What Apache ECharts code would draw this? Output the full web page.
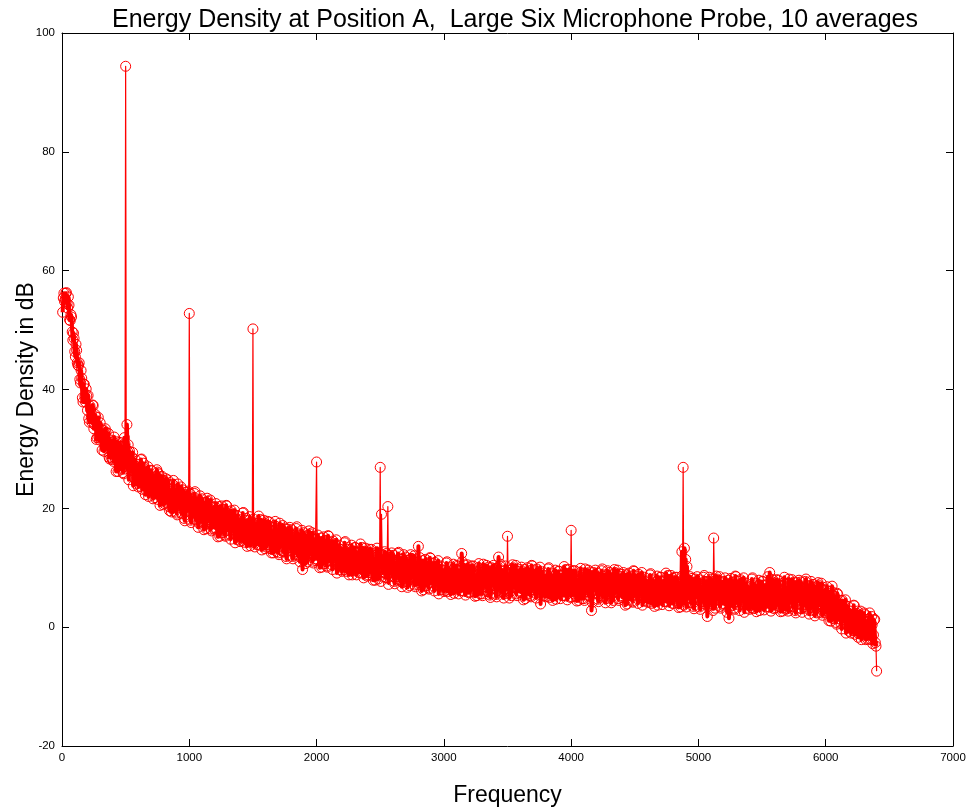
<!DOCTYPE html>
<html>
<head>
<meta charset="utf-8">
<script src="https://cdn.jsdelivr.net/npm/echarts@6/dist/echarts.min.js"></script>
<style>
  html, body { margin: 0; padding: 0; background: #ffffff; }
  #chart { width: 972px; height: 810px; }
</style>
</head>
<body>
<div id="chart"></div>
<script>
// ---- data ----
const titleText = 'Energy Density at Position A,  Large Six Microphone Probe, 10 averages';
const xAxisName = 'Frequency';
const yAxisName = 'Energy Density in dB';

// spectrum bins: 5 Hz spacing; "even" bins at 10,20,...,6400 Hz and "odd" bins at 5,15,...,6395 Hz
const FREQ_EVEN_START_HZ = 10;
const FREQ_ODD_START_HZ = 5;
const FREQ_PAIR_STEP_HZ = 10;

// energy density (dB) at 10, 20, ... 6400 Hz (one row per 200 Hz)
const energyDbEven = [
  55.4, 54.8, 56.2, 54.5, 55.6, 51.7, 52.6, 49.7, 49.5, 46.4, 47.6, 44.5, 44.0, 41.7, 43.2, 38.6, 40.9, 38.8, 40.1, 36.5,
  35.1, 37.2, 35.3, 37.4, 33.4, 35.8, 31.6, 34.0, 32.0, 34.4, 31.9, 33.1, 29.6, 33.4, 30.1, 31.1, 28.6, 31.5, 28.5, 31.2,
  32.0, 28.3, 30.4, 26.2, 28.9, 27.2, 30.4, 26.0, 31.9, 94.4, 34.1, 30.7, 29.6, 26.3, 28.6, 23.8, 27.2, 24.7, 27.4, 23.6,
  24.5, 28.2, 23.2, 27.6, 26.9, 23.1, 26.0, 22.0, 24.8, 26.4, 22.6, 24.9, 21.8, 25.3, 26.1, 25.8, 20.5, 24.4, 22.1, 24.7,
  24.5, 21.0, 24.8, 20.3, 23.1, 19.4, 24.0, 21.1, 22.9, 19.2, 24.1, 20.2, 21.5, 19.1, 23.1, 18.3, 22.3, 20.2, 22.9, 52.8,
  18.0, 21.2, 19.4, 22.5, 18.1, 21.6, 16.8, 20.3, 18.2, 21.6, 18.8, 20.6, 16.6, 21.7, 17.8, 19.3, 16.5, 20.2, 16.8, 20.3,
  20.8, 17.3, 19.5, 15.3, 18.1, 16.6, 19.8, 15.5, 20.5, 17.0, 18.5, 15.6, 19.6, 16.4, 18.9, 14.2, 17.7, 15.4, 18.1, 14.4,
  15.4, 19.2, 14.3, 17.0, 18.3, 14.5, 17.5, 13.7, 16.5, 50.2, 14.6, 16.9, 13.9, 17.5, 15.6, 18.1, 13.0, 16.9, 14.8, 17.4,
  17.2, 13.9, 17.7, 13.2, 16.1, 12.5, 17.1, 14.3, 16.2, 12.5, 17.5, 13.6, 15.0, 12.7, 16.7, 11.9, 16.0, 14.0, 16.8, 12.8,
  11.9, 15.2, 13.4, 16.6, 12.2, 15.7, 11.0, 14.5, 9.7, 15.9, 13.1, 15.0, 11.0, 16.2, 12.3, 13.8, 11.1, 14.8, 11.5, 27.8,
  15.5, 12.0, 14.2, 10.1, 12.9, 11.3, 14.6, 10.3, 15.4, 11.9, 13.3, 10.5, 14.5, 11.4, 13.8, 9.1, 12.7, 10.3, 13.1, 9.4,
  10.5, 14.2, 9.4, 12.1, 13.4, 9.6, 12.7, 8.8, 11.7, 13.4, 9.8, 12.1, 9.2, 12.7, 10.9, 13.4, 8.3, 12.2, 10.1, 12.7,
  12.6, 9.2, 13.1, 8.6, 11.5, 7.9, 12.6, 9.8, 11.7, 26.9, 19.0, 9.2, 10.6, 8.3, 12.4, 20.3, 11.7, 9.7, 12.5, 8.5,
  7.7, 10.9, 9.2, 12.4, 8.0, 11.6, 6.8, 10.4, 8.4, 11.8, 9.1, 10.9, 7.0, 12.2, 8.3, 9.9, 7.1, 10.9, 7.6, 13.6,
  11.7, 8.1, 10.4, 6.3, 9.1, 7.6, 10.8, 6.6, 11.7, 8.2, 9.7, 6.9, 10.9, 7.8, 10.3, 5.6, 9.2, 6.9, 9.6, 6.0,
  7.0, 10.8, 6.0, 8.8, 10.1, 6.4, 9.5, 5.7, 8.6, 10.4, 6.6, 9.0, 6.1, 12.4, 7.9, 10.5, 5.4, 9.4, 7.3, 10.0,
  9.7, 6.4, 10.3, 5.9, 8.8, 5.3, 10.0, 7.2, 9.2, 5.6, 10.6, 6.8, 8.3, 6.0, 10.1, 5.4, 9.5, 7.6, 10.4, 6.5,
  5.5, 8.8, 11.8, 10.3, 6.0, 9.6, 4.9, 8.5, 6.5, 15.3, 7.3, 9.2, 5.3, 10.5, 6.7, 8.3, 5.6, 9.4, 6.1, 9.7,
  10.1, 6.6, 8.9, 4.8, 7.7, 6.2, 9.5, 5.3, 10.4, 7.0, 8.5, 5.7, 9.8, 6.7, 9.2, 3.9, 8.2, 5.9, 8.7, 5.1,
  6.0, 9.8, 5.0, 7.8, 9.1, 5.4, 8.5, 4.7, 7.6, 9.4, 5.8, 8.2, 5.3, 8.9, 7.1, 9.7, 4.6, 8.6, 6.5, 16.3,
  8.9, 5.6, 9.5, 5.1, 8.0, 4.5, 9.2, 6.4, 8.4, 4.8, 9.8, 6.0, 7.5, 5.2, 9.3, 2.8, 8.7, 6.8, 9.6, 5.7,
  4.7, 8.0, 6.3, 9.5, 5.2, 8.8, 4.1, 7.7, 5.7, 9.2, 6.5, 8.4, 4.5, 9.7, 5.9, 7.5, 4.8, 8.6, 5.3, 8.9,
  9.2, 5.7, 8.0, 3.9, 6.8, 5.3, 8.6, 4.4, 9.5, 6.1, 7.6, 4.8, 8.9, 5.8, 8.3, 3.7, 7.3, 5.0, 7.8, 4.2,
  5.0, 8.8, 4.0, 6.8, 8.1, 4.4, 7.5, 3.7, 6.6, 8.4, 4.8, 7.2, 4.3, 7.9, 6.1, 8.7, 3.6, 7.6, 5.5, 8.2,
  7.8, 4.5, 8.4, 4.0, 6.9, 3.4, 12.7, 26.9, 13.3, 11.4, 10.2, 4.9, 6.4, 4.1, 8.2, 3.5, 7.6, 5.7, 8.5, 4.6,
  3.4, 6.9, 5.1, 8.4, 3.9, 7.7, 1.8, 6.5, 4.4, 8.1, 5.3, 15.0, 3.2, 8.6, 4.6, 6.3, 3.5, 7.5, 4.0, 7.7,
  8.3, 4.6, 7.0, 1.5, 5.8, 4.2, 7.6, 3.2, 8.6, 5.0, 6.6, 3.7, 8.0, 4.7, 7.3, 2.5, 6.3, 3.9, 6.8, 3.0,
  4.1, 8.1, 3.1, 6.0, 7.4, 3.5, 6.8, 2.8, 5.8, 7.7, 3.9, 6.5, 3.4, 7.2, 5.3, 9.2, 2.7, 6.9, 4.7, 7.5,
  7.3, 3.9, 7.9, 3.4, 6.3, 2.7, 7.5, 4.7, 6.7, 3.1, 8.1, 4.2, 5.8, 3.4, 7.6, 2.8, 7.0, 5.0, 7.9, 3.9,
  3.1, 6.4, 4.6, 7.7, 3.4, 7.0, 2.2, 5.8, 3.8, 7.2, 4.5, 6.4, 2.4, 7.5, 3.7, 5.2, 2.4, 6.2, 2.8, 6.4,
  6.8, 3.1, 5.3, 1.0, 6.9, 2.0, 5.2, 0.8, 5.7, 2.1, 3.5, 0.6, 4.5, 1.3, 3.7, -1.0, 2.4, 0.0, 2.7, -1.0,
  0.0, 3.7, -1.2, 1.5, 2.7, -1.1, 1.9, -2.1, 0.7, 2.4, -1.3, 1.0, -2.0, 1.4, -0.5, 1.8, -2.8, 1.2, -2.6, -7.4
];

// energy density (dB) at 5, 15, ... 6395 Hz (one row per 200 Hz)
const energyDbOdd = [
  53.0, 56.2, 55.2, 56.3, 53.7, 54.2, 51.6, 52.2, 48.3, 48.6, 45.5, 46.6, 44.1, 44.5, 41.1, 41.9, 37.9, 40.9, 37.9, 38.9,
  39.0, 34.5, 36.6, 34.5, 37.3, 34.1, 35.4, 31.9, 35.3, 31.5, 32.7, 29.8, 33.2, 30.5, 32.8, 30.5, 32.6, 28.3, 30.8, 28.2,
  27.9, 30.6, 26.2, 31.2, 28.0, 31.1, 26.6, 28.9, 25.8, 30.8, 26.6, 29.6, 24.8, 28.1, 26.5, 29.4, 25.2, 28.2, 24.1, 26.6,
  26.7, 23.7, 28.3, 25.0, 26.7, 22.3, 25.2, 27.0, 22.9, 24.2, 26.3, 21.6, 25.3, 22.7, 26.5, 21.5, 24.3, 22.5, 25.4, 20.6,
  20.8, 25.0, 21.4, 24.0, 19.6, 22.8, 20.6, 24.7, 19.5, 22.5, 18.9, 23.3, 20.7, 23.6, 19.2, 22.1, 17.9, 22.7, 19.6, 21.8,
  22.5, 17.6, 20.9, 18.7, 22.8, 19.3, 21.4, 17.5, 22.1, 17.8, 19.7, 16.4, 21.0, 18.0, 21.2, 18.5, 21.4, 16.2, 19.6, 16.5,
  16.7, 19.5, 15.2, 20.3, 17.2, 20.4, 15.9, 18.4, 15.3, 20.4, 16.3, 19.4, 14.8, 18.2, 16.7, 19.7, 15.7, 18.8, 14.7, 17.4,
  17.6, 14.6, 19.3, 16.2, 18.0, 13.6, 16.7, 18.6, 14.5, 16.0, 18.2, 13.5, 17.4, 14.8, 18.7, 13.8, 16.7, 15.0, 18.0, 13.2,
  13.5, 17.8, 14.3, 16.9, 12.5, 15.9, 13.7, 17.8, 12.7, 15.8, 12.2, 16.7, 14.1, 17.1, 12.8, 15.7, 11.5, 16.5, 13.4, 15.7,
  16.4, 11.5, 14.9, 12.7, 16.9, 13.4, 15.5, 11.7, 16.3, 12.1, 14.0, 10.7, 15.4, 12.4, 15.7, 13.0, 15.9, 10.8, 14.2, 11.2,
  11.4, 14.2, 10.0, 15.0, 12.0, 15.2, 10.7, 13.2, 10.1, 15.3, 11.2, 14.3, 9.7, 13.1, 11.7, 14.7, 10.6, 13.8, 9.7, 12.4,
  12.6, 9.7, 14.4, 11.3, 13.1, 8.8, 11.8, 13.8, 9.7, 11.2, 13.4, 8.8, 12.6, 10.1, 14.0, 9.1, 12.0, 10.3, 13.3, 8.6,
  8.8, 13.1, 9.6, 12.2, 7.9, 11.3, 9.1, 13.3, 8.1, 11.3, 7.7, 12.2, 9.7, 12.7, 8.4, 11.3, 7.2, 12.1, 9.1, 11.4,
  12.1, 7.3, 10.6, 8.5, 12.6, 9.2, 11.4, 7.5, 12.2, 7.9, 9.9, 6.7, 11.3, 8.4, 11.6, 9.0, 12.0, 6.8, 10.3, 7.2,
  7.5, 10.4, 6.1, 11.2, 8.2, 11.4, 7.0, 9.4, 6.4, 11.6, 7.5, 10.7, 6.1, 9.5, 8.1, 11.2, 7.1, 10.3, 6.3, 8.9,
  9.1, 6.2, 11.0, 7.9, 9.8, 5.5, 8.6, 10.6, 6.6, 8.1, 10.2, 5.6, 9.5, 7.0, 11.0, 6.1, 9.1, 7.4, 10.5, 5.8,
  5.9, 10.3, 6.8, 9.5, 5.2, 8.6, 6.5, 10.7, 5.6, 8.8, 5.3, 9.8, 7.3, 10.4, 6.1, 9.1, 5.0, 10.0, 7.0, 9.3,
  9.9, 5.1, 8.5, 6.4, 10.6, 7.2, 9.4, 5.6, 10.3, 6.1, 8.1, 4.9, 9.6, 6.7, 10.0, 7.4, 10.4, 5.3, 8.8, 5.8,
  5.9, 8.8, 4.6, 9.7, 6.7, 10.0, 5.6, 8.1, 5.1, 10.3, 6.3, 9.5, 4.9, 8.4, 7.0, 10.1, 6.1, 9.3, 5.3, 8.0,
  8.1, 5.2, 10.0, 6.9, 8.8, 4.5, 7.6, 9.6, 5.6, 7.1, 9.4, 4.8, 8.7, 6.2, 10.2, 5.3, 8.3, 6.6, 9.7, 5.0,
  5.1, 9.5, 6.0, 8.7, 4.4, 7.8, 5.7, 9.9, 4.8, 8.0, 4.5, 9.0, 6.5, 9.6, 5.3, 8.3, 4.2, 9.2, 6.2, 8.5,
  9.1, 4.3, 7.7, 5.6, 9.8, 6.4, 8.6, 4.8, 9.5, 5.3, 7.3, 4.1, 8.8, 5.9, 9.2, 6.6, 9.6, 4.5, 8.0, 5.0,
  5.0, 7.9, 3.7, 8.8, 5.8, 9.1, 4.7, 7.2, 4.2, 9.4, 5.4, 8.6, 4.0, 7.5, 6.1, 9.2, 5.2, 8.4, 4.4, 7.1,
  7.1, 4.2, 9.0, 5.9, 7.8, 3.5, 6.6, 8.6, 4.6, 6.1, 8.4, 3.8, 7.7, 5.2, 9.1, 4.3, 7.3, 5.6, 8.7, 4.0,
  4.0, 8.4, 4.9, 7.6, 3.3, 6.7, 4.6, 8.7, 3.7, 6.9, 3.4, 7.9, 5.4, 8.5, 4.2, 7.2, 3.1, 8.1, 5.1, 7.4,
  8.0, 3.0, 6.5, 4.3, 8.7, 5.2, 7.5, 3.5, 8.4, 4.0, 6.1, 2.8, 7.7, 4.6, 8.1, 5.4, 8.5, 3.2, 6.9, 3.7,
  3.9, 6.9, 2.5, 7.9, 4.7, 8.2, 3.6, 6.2, 3.0, 8.5, 4.3, 7.7, 2.8, 6.5, 5.0, 8.3, 4.1, 7.4, 3.2, 6.1,
  6.3, 3.3, 8.3, 5.1, 7.1, 2.6, 5.8, 7.9, 3.7, 5.3, 7.7, 2.9, 7.0, 4.3, 8.5, 3.4, 6.6, 4.8, 8.0, 3.1,
  3.3, 8.0, 4.3, 7.1, 2.6, 6.2, 4.0, 8.4, 3.0, 6.3, 2.7, 7.4, 4.8, 8.0, 3.5, 6.6, 2.4, 7.5, 4.4, 6.8,
  7.6, 2.5, 6.0, 3.8, 8.1, 4.6, 6.8, 2.8, 7.7, 3.3, 5.3, 1.9, 6.8, 3.7, 7.1, 4.3, 7.4, 2.0, 5.6, 2.4,
  2.7, 5.4, 1.1, 6.0, 2.8, 5.9, 1.4, 3.7, 0.5, 5.5, 1.4, 4.5, -0.3, 3.1, 1.6, 4.6, 0.4, 3.5, -0.7, 2.0,
  2.1, -0.6, 3.6, 0.7, 2.3, -1.7, 1.0, 2.7, -1.1, 0.2, 2.1, -2.1, 1.3, -1.1, 2.4, -2.1, 0.4, -1.3, 1.3, -3.2
];

// bins holding the isolated tones (their stems are drawn thin, like the reference)
const toneBinsHz = [500, 1000, 1500, 2000, 2500, 2510, 2560, 3500, 4000, 4880, 5120, 6400];

// axis ticks
const xTicks = [0, 1000, 2000, 3000, 4000, 5000, 6000, 7000];
const yTicks = [-20, 0, 20, 40, 60, 80, 100];

// ---- chart ----
const FONT = '"Liberation Sans", Arial, Helvetica, sans-serif';
const RED = '#ff0000';

// merge the two bin sets into frequency order: 5, 10, 15, 20, ...
const seriesData = [];
for (let i = 0; i < energyDbEven.length; i++) {
  seriesData.push([FREQ_ODD_START_HZ + i * FREQ_PAIR_STEP_HZ, energyDbOdd[i]]);
  seriesData.push([FREQ_EVEN_START_HZ + i * FREQ_PAIR_STEP_HZ, energyDbEven[i]]);
}
// same bins for the dense noise-floor trace, with the tone bins left out
const toneSet = new Set(toneBinsHz);
const floorData = seriesData.map(([f, v]) => (toneSet.has(f) ? [f, '-'] : [f, v]));

const xMin = xTicks[0], xMax = xTicks[xTicks.length - 1], xInt = xTicks[1] - xTicks[0];
const yMin = yTicks[0], yMax = yTicks[yTicks.length - 1], yInt = yTicks[1] - yTicks[0];

const axisLineStyle = { show: true, onZero: false, lineStyle: { color: '#000', width: 1 } };
const tickStyle = { show: true, inside: true, length: 7, lineStyle: { color: '#000', width: 1 } };
const plainNumber = v => String(v);

const chart = echarts.init(document.getElementById('chart'), null, { renderer: 'canvas' });
chart.setOption({
  animation: false,
  backgroundColor: '#ffffff',
  title: {
    text: titleText,
    left: 510, top: 3, textAlign: 'center',
    textStyle: { fontFamily: FONT, fontSize: 25, fontWeight: 'normal', color: '#000' }
  },
  grid: { left: 62, right: 19, top: 33, bottom: 64, containLabel: false, outerBoundsMode: 'none' },
  xAxis: [
    {
      type: 'value', position: 'bottom', min: xMin, max: xMax, interval: xInt,
      axisLine: axisLineStyle, axisTick: tickStyle,
      axisLabel: { show: true, color: '#000', fontFamily: FONT, fontSize: 11.5, margin: 6, showMinLabel: true, showMaxLabel: true, formatter: plainNumber },
      splitLine: { show: false },
      name: xAxisName, nameLocation: 'middle', nameGap: 38,
      nameTextStyle: { fontFamily: FONT, fontSize: 23, color: '#000' }
    },
    {
      type: 'value', position: 'top', min: xMin, max: xMax, interval: xInt,
      axisLine: axisLineStyle, axisTick: tickStyle,
      axisLabel: { show: false }, splitLine: { show: false }
    }
  ],
  yAxis: [
    {
      type: 'value', position: 'left', min: yMin, max: yMax, interval: yInt,
      axisLine: axisLineStyle, axisTick: tickStyle,
      axisLabel: { show: true, color: '#000', fontFamily: FONT, fontSize: 11.5, margin: 7, showMinLabel: true, showMaxLabel: true, formatter: plainNumber },
      splitLine: { show: false },
      name: yAxisName, nameLocation: 'middle', nameGap: 24, nameMoveOverlap: false,
      nameTextStyle: { fontFamily: FONT, fontSize: 23, color: '#000' }
    },
    {
      type: 'value', position: 'right', min: yMin, max: yMax, interval: yInt,
      axisLine: axisLineStyle, axisTick: tickStyle,
      axisLabel: { show: false }, splitLine: { show: false }
    }
  ],
  series: [
    {
      // dense noise-floor trace (heavier stroke so the overplotted band reads solid)
      type: 'line',
      xAxisIndex: 0, yAxisIndex: 0,
      data: floorData,
      symbol: 'none', showSymbol: false,
      connectNulls: false,
      clip: true, sampling: false, progressive: 0, large: false,
      color: RED,
      lineStyle: { color: RED, width: 4, join: 'round' },
      emphasis: { disabled: true },
      silent: true
    },
    {
      // full connecting line of the spectrum, thin (tone stems)
      type: 'line',
      xAxisIndex: 0, yAxisIndex: 0,
      data: seriesData,
      symbol: 'none', showSymbol: false,
      clip: true, sampling: false, progressive: 0, large: false,
      color: RED,
      lineStyle: { color: RED, width: 1.2, join: 'round' },
      emphasis: { disabled: true },
      silent: true
    },
    {
      // open circle markers on every bin
      type: 'scatter',
      xAxisIndex: 0, yAxisIndex: 0,
      data: seriesData,
      symbol: 'circle',
      symbolSize: 10,
      large: false, progressive: 0,
      itemStyle: { color: 'none', borderColor: RED, borderWidth: 1, opacity: 1 },
      emphasis: { disabled: true },
      silent: true
    }
  ]
});
</script>
</body>
</html>
